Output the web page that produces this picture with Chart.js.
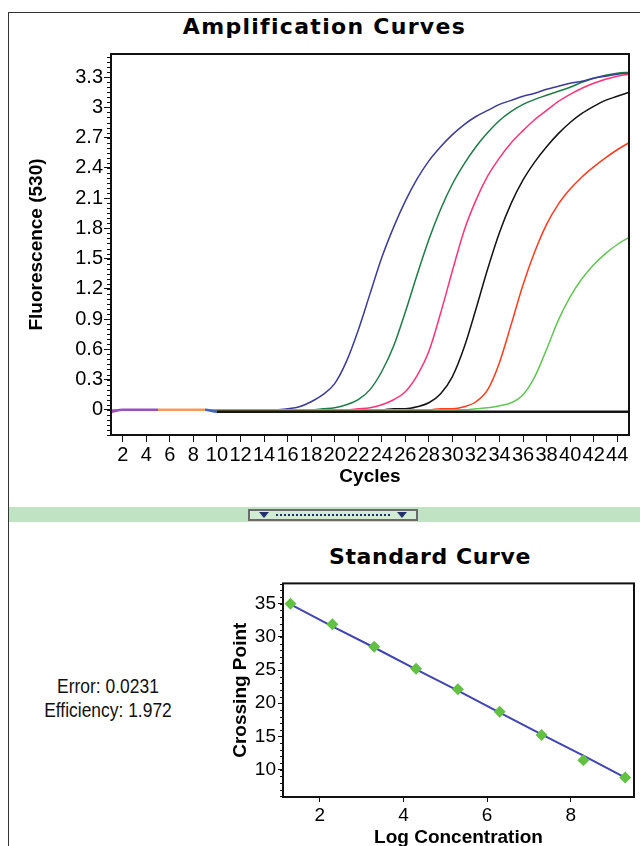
<!DOCTYPE html>
<html>
<head>
<meta charset="utf-8">
<script src="https://cdn.jsdelivr.net/npm/chart.js@4.4.1/dist/chart.umd.min.js"></script>
<style>
    html, body { margin: 0; padding: 0; background: #fff; }
    body { width: 640px; height: 846px; position: relative; overflow: hidden; font-family: 'Liberation Sans', Arial, sans-serif; }
    #frame { position: absolute; left: 8px; top: 12px; width: 700px; height: 900px; border-left: 1px solid #333; border-top: 1px solid #333; }
    .title { position: absolute; font: bold 22px 'DejaVu Sans', sans-serif; text-align: center; line-height: 26px; color: #000; }
    #ampTitle { left: 0; width: 649px; top: 14px; letter-spacing: 1.3px; }
    #stdTitle { left: 230px; width: 400px; top: 544px; letter-spacing: 0.6px; }
    #ampBox { position: absolute; left: 0; top: 0; }
    #stdBox { position: absolute; left: 220px; top: 570px; }
    #splitter { position: absolute; left: 9px; top: 507px; width: 640px; height: 15px; background: #c0e3c4; }
    #handle { position: absolute; left: 248px; top: 509px; width: 170px; height: 12px; box-sizing: border-box;
              border: 2px solid #6a6a6a; background: #d2ecd4; }
    .tri { position: absolute; top: 1px; width: 0; height: 0; border-left: 5px solid transparent; border-right: 5px solid transparent; border-top: 6px solid #23306e; }
    #dots { position: absolute; left: 26px; top: 3px; width: 114px; border-top: 2px dotted #23306e; }
    #fitInfo { position: absolute; left: 8px; width: 200px; top: 674px; text-align: center;
               font: 21px 'Liberation Sans', sans-serif; line-height: 24px; color: #111;
               transform: scaleX(0.83); transform-origin: 100px 0; }
</style>
</head>
<body>
<div id="frame"></div>
<div class="title" id="ampTitle">Amplification Curves</div>
<div id="ampBox"><canvas id="ampChart" width="640" height="500"></canvas></div>
<div id="splitter"></div>
<div id="handle"><div class="tri" style="left:9px"></div><div id="dots"></div><div class="tri" style="left:147px"></div></div>
<div class="title" id="stdTitle">Standard Curve</div>
<div id="fitInfo">Error: 0.0231<br>Efficiency: 1.972</div>
<div id="stdBox"><canvas id="stdChart" width="420" height="290"></canvas></div>

<script>
// amplification run: fluorescence (530) per cycle
const cycles = [1, 2, 3, 4, 5, 6, 7, 8, 9, 10, 11, 12, 13, 14, 15, 16, 17, 18, 19, 20, 21, 22, 23,
                24, 25, 26, 27, 28, 29, 30, 31, 32, 33, 34, 35, 36, 37, 38, 39, 40, 41, 42, 43, 44, 45];

const sampleBlue = [0, 0, 0, 0, 0, 0, 0, 0, 0, 0, 0, 0, 0, 0, 0, 0.01, 0.03, 0.08, 0.15, 0.26, 0.48, 0.79, 1.15,
                    1.51, 1.81, 2.07, 2.29, 2.47, 2.61, 2.73, 2.83, 2.91, 2.97, 3.03, 3.07, 3.11, 3.14, 3.18, 3.21, 3.24, 3.26, 3.29, 3.31, 3.33, 3.34];
const sampleDarkGreen = [0, 0, 0, 0, 0, 0, 0, 0, 0, 0, 0, 0, 0, 0, 0, 0, 0, 0, 0.01, 0.02, 0.05, 0.10, 0.20,
                         0.38, 0.63, 0.97, 1.34, 1.69, 1.99, 2.24, 2.44, 2.61, 2.75, 2.87, 2.96, 3.03, 3.08, 3.12, 3.16, 3.20, 3.25, 3.29, 3.32, 3.34, 3.35];
const samplePink = [0, 0, 0, 0, 0, 0, 0, 0, 0, 0, 0, 0, 0, 0, 0, 0, 0, 0, 0, 0, 0, 0.01, 0.02,
                    0.05, 0.10, 0.18, 0.34, 0.58, 0.96, 1.38, 1.78, 2.08, 2.32, 2.50, 2.65, 2.77, 2.88, 2.97, 3.06, 3.13, 3.19, 3.24, 3.28, 3.31, 3.33];
const sampleBlack = [0, 0, 0, 0, 0, 0, 0, 0, 0, 0, 0, 0, 0, 0, 0, 0, 0, 0, 0, 0, 0, 0, 0,
                     0, 0.01, 0.01, 0.03, 0.07, 0.16, 0.33, 0.62, 1.00, 1.40, 1.76, 2.05, 2.28, 2.46, 2.61, 2.74, 2.85, 2.94, 3.01, 3.07, 3.11, 3.15];
const sampleRed = [0, 0, 0, 0, 0, 0, 0, 0, 0, 0, 0, 0, 0, 0, 0, 0, 0, 0, 0, 0, 0, 0, 0,
                   0, 0, 0, 0, 0, 0.01, 0.01, 0.03, 0.08, 0.20, 0.47, 0.85, 1.24, 1.57, 1.84, 2.04, 2.19, 2.31, 2.41, 2.50, 2.58, 2.65];
const sampleLightGreen = [0, 0, 0, 0, 0, 0, 0, 0, 0, 0, 0, 0, 0, 0, 0, 0, 0, 0, 0, 0, 0, 0, 0,
                          0, 0, 0, 0, 0, 0, 0, 0, 0.01, 0.02, 0.04, 0.07, 0.15, 0.33, 0.60, 0.89, 1.12, 1.30, 1.44, 1.55, 1.64, 1.71];
const negControl = [-0.02, 0, 0, 0, 0, 0, 0, 0, 0, -0.02, -0.02, -0.02, -0.02, -0.02, -0.02, -0.02, -0.02, -0.02, -0.02, -0.02, -0.02, -0.02, -0.02,
                    -0.02, -0.02, -0.02, -0.02, -0.02, -0.02, -0.02, -0.02, -0.02, -0.02, -0.02, -0.02, -0.02, -0.02, -0.02, -0.02, -0.02, -0.02, -0.02, -0.02, -0.02, -0.02];

const ampXTicks = [2, 4, 6, 8, 10, 12, 14, 16, 18, 20, 22, 24, 26, 28, 30, 32, 34, 36, 38, 40, 42, 44];
const ampYTicks = [0, 0.3, 0.6, 0.9, 1.2, 1.5, 1.8, 2.1, 2.4, 2.7, 3, 3.3];

// standard curve
const logConc = [1.3, 2.3, 3.3, 4.3, 5.3, 6.3, 7.3, 8.3, 9.3];
const crossingPoint = [35.0, 31.9, 28.5, 25.2, 22.1, 18.7, 15.2, 11.4, 8.8];
const fitLine = [34.9, 31.6, 28.4, 25.1, 21.9, 18.6, 15.3, 12.1, 8.8];
const stdXTicks = [2, 4, 6, 8];
const stdYTicks = [10, 15, 20, 25, 30, 35];

Chart.defaults.font.family = "'Liberation Sans', Arial, sans-serif";
Chart.defaults.color = '#000';

// box round the plot area + short minor ticks on the y axis
const framePlugin = {
    id: 'frame',
    afterDraw(chart, args, opts) {
        const { ctx, chartArea: a } = chart;
        const ys = chart.scales.y;
        ctx.save();
        ctx.strokeStyle = '#111';
        ctx.lineWidth = 1;
        ctx.beginPath();
        const n = Math.floor((ys.max - ys.min) / opts.minorStep) + 1;
        const start = Math.ceil(ys.min / opts.minorStep);
        for (let i = 0; i < n; i++) {
            const v = (start + i) * opts.minorStep;
            if (v > ys.max) break;
            const py = Math.round(ys.getPixelForValue(v)) + 0.5;
            ctx.moveTo(a.left - opts.minorLen, py);
            ctx.lineTo(a.left, py);
        }
        ctx.stroke();
        ctx.lineWidth = 2;
        ctx.strokeRect(a.left, a.top, a.right - a.left, a.bottom - a.top);
        ctx.restore();
    }
};

function series(values, colour, width) {
    return {
        data: cycles.map((c, i) => ({ x: c, y: values[i] })),
        borderColor: colour,
        borderWidth: width || 1.5,
        pointRadius: 0,
        fill: false,
        cubicInterpolationMode: 'monotone'
    };
}

function baselineColour(ctx) {
    const c = cycles[ctx.p0DataIndex];
    if (c < 5) return '#9a4fc0';
    if (c < 9) return '#f79a5c';
    if (c < 10) return '#3a66c4';
    return '#151515';
}

const baseline = series(negControl, '#151515', 2.5);
baseline.segment = { borderColor: baselineColour };

new Chart(document.getElementById('ampChart'), {
    type: 'line',
    data: {
        datasets: [
            baseline,
            series(sampleLightGreen, '#62c653'),
            series(sampleRed, '#ff3b1c'),
            series(sampleBlack, '#121212'),
            series(samplePink, '#ff3276'),
            series(sampleBlue, '#3b3b9c'),
            series(sampleDarkGreen, '#1d7c45')
        ]
    },
    options: {
        responsive: false,
        animation: false,
        layout: { padding: { left: 0, top: 54, right: 11, bottom: 0 } },
        plugins: {
            legend: { display: false },
            tooltip: { enabled: false },
            frame: { minorStep: 0.05, minorLen: 4 }
        },
        scales: {
            x: {
                type: 'linear',
                min: 1,
                max: 45,
                afterBuildTicks: (s) => { s.ticks = ampXTicks.map(v => ({ value: v })); },
                afterFit: (s) => { s.height = 65; },
                ticks: { autoSkip: false, maxRotation: 0, padding: 1, font: { size: 20 } },
                grid: { drawOnChartArea: false, tickLength: 7, color: '#111' },
                border: { display: false },
                title: { display: true, text: 'Cycles', font: { size: 19, weight: 'bold' }, padding: { top: 0, bottom: 12 } }
            },
            y: {
                min: -0.25,
                max: 3.53,
                afterBuildTicks: (s) => { s.ticks = ampYTicks.map(v => ({ value: v })); },
                afterFit: (s) => { s.width = 111; },
                ticks: { padding: 1, callback: (v) => String(+v.toFixed(2)), font: { size: 20 } },
                grid: { drawOnChartArea: false, tickLength: 7, color: '#111' },
                border: { display: false },
                title: { display: true, text: 'Fluorescence (530)', font: { size: 19, weight: 'bold' }, padding: { top: 25, bottom: 0 } }
            }
        }
    },
    plugins: [framePlugin]
});

new Chart(document.getElementById('stdChart'), {
    type: 'line',
    data: {
        datasets: [
            {
                data: logConc.map((x, i) => ({ x, y: crossingPoint[i] })),
                showLine: false,
                pointStyle: 'rectRot',
                pointRadius: 6,
                pointBackgroundColor: '#62c042',
                pointBorderColor: '#62c042',
                pointBorderWidth: 0
            },
            {
                data: logConc.map((x, i) => ({ x, y: fitLine[i] })),
                borderColor: '#3f45b8',
                borderWidth: 2,
                pointRadius: 0,
                fill: false
            }
        ]
    },
    options: {
        responsive: false,
        animation: false,
        layout: { padding: { left: 0, top: 13, right: 5, bottom: 0 } },
        plugins: {
            legend: { display: false },
            tooltip: { enabled: false },
            frame: { minorStep: 1, minorLen: 3 }
        },
        scales: {
            x: {
                type: 'linear',
                min: 1.12,
                max: 9.51,
                afterBuildTicks: (s) => { s.ticks = stdXTicks.map(v => ({ value: v })); },
                afterFit: (s) => { s.height = 63; },
                ticks: { maxRotation: 0, padding: 2, font: { size: 19 } },
                grid: { drawOnChartArea: false, tickLength: 5, color: '#111' },
                border: { display: false },
                title: { display: true, text: 'Log Concentration', font: { size: 19, weight: 'bold' }, padding: { top: 0, bottom: 11 } }
            },
            y: {
                min: 5.87,
                max: 38.06,
                afterBuildTicks: (s) => { s.ticks = stdYTicks.map(v => ({ value: v })); },
                afterFit: (s) => { s.width = 63; },
                ticks: { padding: 2, font: { size: 19 } },
                grid: { drawOnChartArea: false, tickLength: 5, color: '#111' },
                border: { display: false },
                title: { display: true, text: 'Crossing Point', font: { size: 19, weight: 'bold' }, padding: { top: 9, bottom: 0 } }
            }
        }
    },
    plugins: [framePlugin]
});
</script>
</body>
</html>
